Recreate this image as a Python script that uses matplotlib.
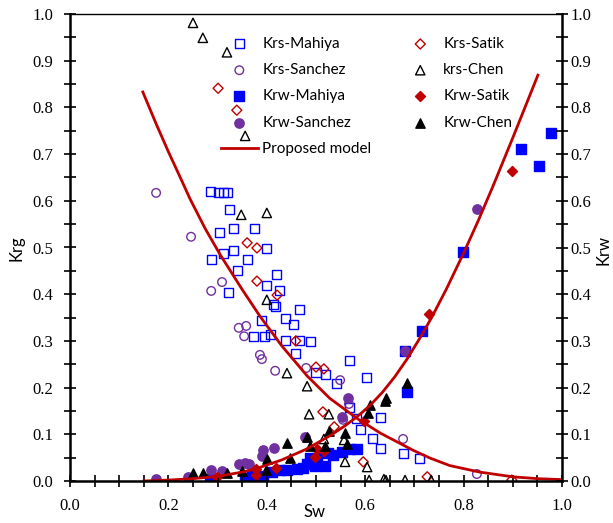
import matplotlib
matplotlib.use('Agg')
import matplotlib.pyplot as plt
from matplotlib.ticker import MultipleLocator

# Krs-Mahiya (open blue squares)
krs_mahiya_sw = [0.285, 0.301, 0.311, 0.321, 0.325, 0.303, 0.333, 0.376, 0.400, 0.287, 0.313, 0.333,
                 0.360, 0.341, 0.419, 0.400, 0.323, 0.425, 0.413, 0.417, 0.467, 0.390, 0.439, 0.455,
                 0.372, 0.396, 0.407, 0.437, 0.467, 0.488, 0.459, 0.500, 0.520, 0.541, 0.569, 0.602,
                 0.569, 0.632, 0.583, 0.591, 0.614, 0.632, 0.677, 0.711]
krs_mahiya_k = [0.619, 0.617, 0.617, 0.617, 0.582, 0.533, 0.540, 0.540, 0.497, 0.475, 0.488, 0.494,
                0.475, 0.450, 0.443, 0.418, 0.403, 0.407, 0.379, 0.373, 0.368, 0.343, 0.349, 0.336,
                0.310, 0.310, 0.314, 0.300, 0.300, 0.298, 0.272, 0.233, 0.229, 0.208, 0.259, 0.221,
                0.158, 0.135, 0.133, 0.111, 0.090, 0.069, 0.058, 0.049]

# Krs-Sanchez (open purple circles)
krs_sanchez_sw = [0.175, 0.246, 0.309, 0.287, 0.343, 0.358, 0.354, 0.386, 0.390, 0.417, 0.480, 0.549,
                  0.567, 0.555, 0.677, 0.827]
krs_sanchez_k = [0.617, 0.523, 0.426, 0.407, 0.328, 0.332, 0.310, 0.270, 0.261, 0.236, 0.242, 0.216,
                 0.165, 0.131, 0.090, 0.015]

# Krs-Satik (open red diamonds)
krs_satik_sw = [0.301, 0.339, 0.360, 0.380, 0.380, 0.421, 0.459, 0.500, 0.516, 0.514, 0.537, 0.596,
                0.726, 0.898]
krs_satik_k = [0.841, 0.794, 0.510, 0.499, 0.428, 0.398, 0.300, 0.244, 0.240, 0.148, 0.116, 0.041,
               0.009, 0.002]

# krs-Chen (open black triangles)
krs_chen_sw = [0.250, 0.270, 0.319, 0.356, 0.348, 0.400, 0.400, 0.441, 0.482, 0.486, 0.526, 0.516,
               0.557, 0.559, 0.604, 0.608, 0.638, 0.642, 0.681, 0.734]
krs_chen_k = [0.981, 0.949, 0.918, 0.739, 0.570, 0.574, 0.388, 0.231, 0.203, 0.143, 0.143, 0.090,
              0.088, 0.041, 0.030, 0.002, 0.004, 0.002, 0.002, 0.002]

# Krw-Mahiya (filled blue squares)
krw_mahiya_sw = [0.285, 0.356, 0.370, 0.392, 0.411, 0.427, 0.441, 0.461, 0.474, 0.482, 0.488, 0.498,
                 0.502, 0.518, 0.524, 0.535, 0.553, 0.569, 0.583, 0.685, 0.681, 0.715, 0.799, 0.917,
                 0.953, 0.978]
krw_mahiya_k = [0.004, 0.006, 0.011, 0.011, 0.019, 0.024, 0.024, 0.026, 0.028, 0.036, 0.049, 0.032,
                0.049, 0.032, 0.060, 0.056, 0.062, 0.069, 0.069, 0.191, 0.278, 0.321, 0.490, 0.711,
                0.675, 0.745]

# Krw-Sanchez (filled purple circles)
krw_sanchez_sw = [0.175, 0.240, 0.287, 0.309, 0.343, 0.356, 0.364, 0.390, 0.392, 0.415, 0.478, 0.553,
                  0.565, 0.681, 0.827]
krw_sanchez_k = [0.004, 0.009, 0.024, 0.021, 0.036, 0.038, 0.036, 0.054, 0.066, 0.071, 0.094, 0.137,
                 0.178, 0.278, 0.582]

# Krw-Satik (filled red diamonds)
krw_satik_sw = [0.299, 0.378, 0.378, 0.419, 0.498, 0.502, 0.516, 0.598, 0.730, 0.898]
krw_satik_k = [0.009, 0.026, 0.013, 0.028, 0.051, 0.069, 0.064, 0.128, 0.358, 0.664]

# Krw-Chen (filled black triangles)
krw_chen_sw = [0.250, 0.270, 0.319, 0.350, 0.398, 0.400, 0.441, 0.447, 0.482, 0.488, 0.518, 0.526,
               0.559, 0.563, 0.606, 0.610, 0.640, 0.642, 0.685]
krw_chen_k = [0.017, 0.017, 0.017, 0.021, 0.024, 0.047, 0.081, 0.049, 0.094, 0.075, 0.075, 0.107,
              0.103, 0.079, 0.146, 0.163, 0.171, 0.178, 0.210]

# Proposed model
model_krg_sw = [0.148, 0.175, 0.20, 0.225, 0.244, 0.275, 0.305, 0.35, 0.386, 0.43, 0.482, 0.528,
                0.585, 0.63, 0.697, 0.732, 0.772, 0.833, 0.90, 0.95, 1.0]
model_krg_k = [0.833, 0.765, 0.705, 0.648, 0.604, 0.540, 0.485, 0.410, 0.353, 0.290, 0.225, 0.177,
               0.133, 0.103, 0.066, 0.049, 0.033, 0.019, 0.009, 0.005, 0.003]
model_krw_sw = [0.15, 0.20, 0.25, 0.30, 0.35, 0.38, 0.43, 0.48, 0.53, 0.56, 0.585, 0.61, 0.635,
                0.66, 0.685, 0.71, 0.735, 0.765, 0.80, 0.83, 0.86, 0.90, 0.951]
model_krw_k = [0.0, 0.002, 0.005, 0.010, 0.019, 0.027, 0.045, 0.068, 0.098, 0.119, 0.139, 0.162,
               0.190, 0.223, 0.261, 0.304, 0.350, 0.411, 0.488, 0.558, 0.632, 0.735, 0.869]

blue = '#0000FF'
purple = '#7030A0'
red = '#C00000'

plt.rcParams['font.family'] = 'Liberation Serif'
fig = plt.figure(figsize=(6.13, 5.23), dpi=100)
ax = fig.add_axes([70/613, 42/523, 492/613, 467/523])

ax.scatter(krs_mahiya_sw, krs_mahiya_k, marker='s', s=42, facecolors='none', edgecolors=blue, linewidths=1.0, label='Krs-Mahiya')
ax.scatter(krs_sanchez_sw, krs_sanchez_k, marker='o', s=38, facecolors='none', edgecolors=purple, linewidths=1.0, label='Krs-Sanchez')
ax.scatter(krw_mahiya_sw, krw_mahiya_k, marker='s', s=50, color=blue, label='Krw-Mahiya')
ax.scatter(krw_sanchez_sw, krw_sanchez_k, marker='o', s=45, color=purple, label='Krw-Sanchez')
ax.plot(model_krg_sw, model_krg_k, color=red, lw=2, label='Proposed model')
ax.plot(model_krw_sw, model_krw_k, color=red, lw=2)
ax.scatter(krs_satik_sw, krs_satik_k, marker='D', s=26, facecolors='none', edgecolors=red, linewidths=1.0, label='Krs-Satik')
ax.scatter(krs_chen_sw, krs_chen_k, marker='^', s=45, facecolors='none', edgecolors='black', linewidths=1.0, label='krs-Chen')
ax.scatter(krw_satik_sw, krw_satik_k, marker='D', s=26, color=red, label='Krw-Satik')
ax.scatter(krw_chen_sw, krw_chen_k, marker='^', s=45, color='black', label='Krw-Chen')

ax.set_xlim(0, 1)
ax.set_ylim(0, 1)
ax.xaxis.set_major_locator(MultipleLocator(0.2))
ax.xaxis.set_minor_locator(MultipleLocator(0.05))
ax.yaxis.set_major_locator(MultipleLocator(0.1))
ax.yaxis.set_minor_locator(MultipleLocator(0.05))
ax.xaxis.set_major_formatter('{x:.1f}')
ax.yaxis.set_major_formatter('{x:.1f}')
ax.tick_params(which='both', direction='inout', length=8, width=1.2, labelsize=12, top=False)
ax.tick_params(axis='y', pad=8)
ax.tick_params(axis='x', pad=8)
for side in ['left', 'bottom']:
    ax.spines[side].set_linewidth(1.8)
ax.spines['top'].set_linewidth(1.0)
ax.spines['right'].set_visible(False)

ax2 = ax.twinx()
ax2.set_ylim(0, 1)
ax2.yaxis.set_major_locator(MultipleLocator(0.1))
ax2.yaxis.set_minor_locator(MultipleLocator(0.05))
ax2.yaxis.set_major_formatter('{x:.1f}')
ax2.tick_params(which='both', direction='inout', length=8, width=1.2, labelsize=12, pad=2)
ax2.spines['right'].set_linewidth(1.8)
for side in ['left', 'top', 'bottom']:
    ax2.spines[side].set_visible(False)

fig.text(17/613, 1 - 248/523, 'Krg', rotation=90, ha='center', va='center', family='Lato', fontsize=12)
fig.text(314/613, 1 - 512/523, 'Sw', ha='center', va='center', family='Lato', fontsize=12)
fig.text(604/613, 1 - 250/523, 'Krw', rotation=90, ha='center', va='center', family='Lato', fontsize=12)

ax.legend(ncol=2, loc='upper left', bbox_to_anchor=((221-70)/492, (481-37)/467), frameon=False,
          prop={'family': 'Lato', 'size': 11}, handlelength=2.4, handletextpad=0.3,
          labelspacing=0.8, columnspacing=2.0, borderpad=0, borderaxespad=0)

fig.savefig('out.png', dpi=100)
